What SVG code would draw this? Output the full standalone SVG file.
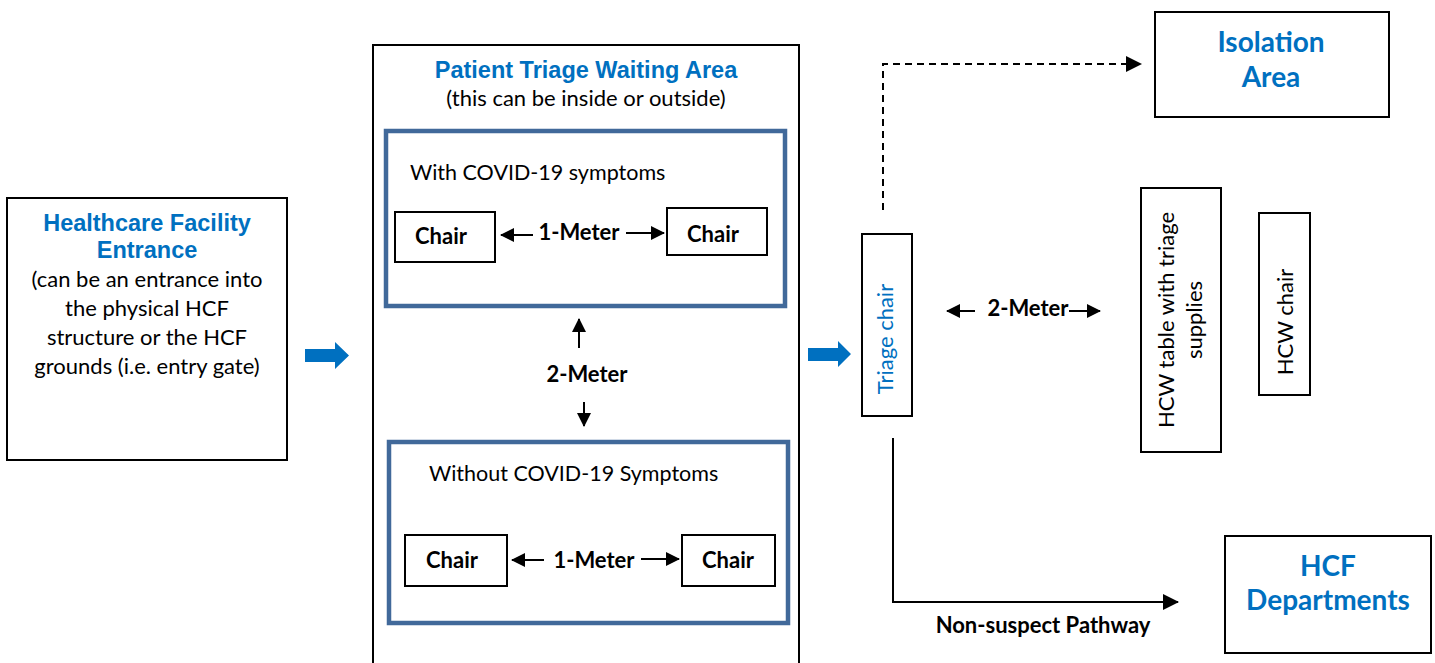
<svg xmlns="http://www.w3.org/2000/svg" width="1435" height="663" viewBox="0 0 1435 663">
<style>
.box{fill:#fff;stroke:#000;stroke-width:2}
.inner{fill:none;stroke:#41699A;stroke-width:4.5}
.ttl{font-family:"Liberation Sans",Arial,sans-serif;font-weight:bold;font-size:23.5px;fill:#0070C0;text-anchor:middle}
.cal{font-family:Lato,"Open Sans",sans-serif;font-size:22px;fill:#000}
.calb{font-family:Lato,"Open Sans",sans-serif;font-size:22px;font-weight:bold;fill:#000}
.blueb{font-family:Lato,"Open Sans",sans-serif;font-size:28px;font-weight:bold;fill:#0070C0;text-anchor:middle}
.mid{text-anchor:middle}
.ln{stroke:#000;stroke-width:2;fill:none}
.bluearrow{fill:#0070C0}
</style>
<defs>
<marker id="ah" markerUnits="userSpaceOnUse" markerWidth="14" markerHeight="14" refX="13" refY="7" orient="auto">
<path d="M0,0 L14,7 L0,14 Z" fill="#000"/>
</marker>
<marker id="ahL" markerUnits="userSpaceOnUse" markerWidth="16" markerHeight="16" refX="15" refY="8" orient="auto">
<path d="M0,0 L16,8 L0,16 Z" fill="#000"/>
</marker>
</defs>

<g id="entrance">
<rect class="box" x="7" y="198" width="280" height="262"/>
<text class="ttl" x="147" y="231">Healthcare Facility</text>
<text class="ttl" x="147" y="258">Entrance</text>
<text class="cal mid" x="147" y="287">(can be an entrance into</text>
<text class="cal mid" x="147" y="316">the physical HCF</text>
<text class="cal mid" x="147" y="345">structure or the HCF</text>
<text class="cal mid" x="147" y="374">grounds (i.e. entry gate)</text>
</g>

<g id="waiting-area">
<rect class="box" x="373" y="45" width="426" height="630" stroke-width="1.5"/>
<text class="ttl" x="586" y="78">Patient Triage Waiting Area</text>
<text class="cal mid" x="586" y="106">(this can be inside or outside)</text>
</g>

<g id="with-symptoms">
<rect class="inner" x="386" y="131" width="399" height="175"/>
<text class="cal" x="410" y="180" style="font-size:21.5px">With COVID-19 symptoms</text>
</g>
<g id="chair-1">
<rect class="box" x="395" y="212" width="100" height="50" stroke-width="1.5"/>
<text class="calb mid" x="441" y="244">Chair</text>
</g>
<g id="chair-2">
<rect class="box" x="667" y="208" width="100" height="47" stroke-width="1.5"/>
<text class="calb mid" x="713" y="242">Chair</text>
</g>

<g id="without-symptoms">
<rect class="inner" x="389" y="442" width="399" height="181"/>
<text class="cal" x="429" y="481" style="font-size:21.5px">Without COVID-19 Symptoms</text>
</g>
<g id="chair-3">
<rect class="box" x="405" y="535" width="102" height="51" stroke-width="1.5"/>
<text class="calb mid" x="452" y="568">Chair</text>
</g>
<g id="chair-4">
<rect class="box" x="682" y="535" width="93" height="51" stroke-width="1.5"/>
<text class="calb mid" x="728" y="568">Chair</text>
</g>

<g id="isolation">
<rect class="box" x="1155" y="12" width="234" height="105"/>
<text class="blueb" x="1271" y="52">Isolation</text>
<text class="blueb" x="1271" y="87">Area</text>
</g>

<g id="triage-chair">
<rect class="box" x="862" y="234" width="50" height="182"/>
<text class="cal mid" transform="translate(893,339) rotate(-90)" style="fill:#0070C0">Triage chair</text>
</g>

<g id="hcw-table">
<rect class="box" x="1141" y="188" width="80" height="264"/>
<text class="cal mid" transform="translate(1174,320) rotate(-90)">HCW table with triage</text>
<text class="cal mid" transform="translate(1202,320) rotate(-90)">supplies</text>
</g>

<g id="hcw-chair">
<rect class="box" x="1259" y="213" width="51" height="182"/>
<text class="cal mid" transform="translate(1293,322) rotate(-90)">HCW chair</text>
</g>

<g id="hcf-departments">
<rect class="box" x="1225" y="536" width="206" height="117"/>
<text class="blueb" x="1328" y="576">HCF</text>
<text class="blueb" x="1328" y="610">Departments</text>
</g>

<g id="connectors">
<polygon class="bluearrow" points="305,349 335,349 335,342 349,355.5 335,369 335,362 305,362"/>
<polygon class="bluearrow" points="808,348 838,348 838,341 851,354 838,367 838,361 808,361"/>

<line class="ln" x1="533" y1="235" x2="501" y2="235" marker-end="url(#ah)"/>
<line class="ln" x1="626" y1="233" x2="664" y2="233" marker-end="url(#ah)"/>
<text class="calb mid" x="579" y="240">1-Meter</text>

<line class="ln" x1="579" y1="348" x2="579" y2="319" marker-end="url(#ah)"/>
<text class="calb mid" x="587" y="382">2-Meter</text>
<line class="ln" x1="584" y1="402" x2="584" y2="426" marker-end="url(#ah)"/>

<line class="ln" x1="544" y1="560" x2="512" y2="560" marker-end="url(#ah)"/>
<line class="ln" x1="641" y1="559" x2="679" y2="559" marker-end="url(#ah)"/>
<text class="calb mid" x="594" y="568">1-Meter</text>

<path class="ln" d="M883,210 V64 H1141" stroke-dasharray="7,5" marker-end="url(#ahL)"/>

<line class="ln" x1="975" y1="311" x2="947" y2="311" marker-end="url(#ah)"/>
<text class="calb mid" x="1028" y="316">2-Meter</text>
<line class="ln" x1="1069" y1="311" x2="1100" y2="311" marker-end="url(#ah)"/>

<path class="ln" d="M893,438 V602 H1178" marker-end="url(#ahL)"/>
<text class="calb mid" x="1043" y="633">Non-suspect Pathway</text>
</g>
</svg>
